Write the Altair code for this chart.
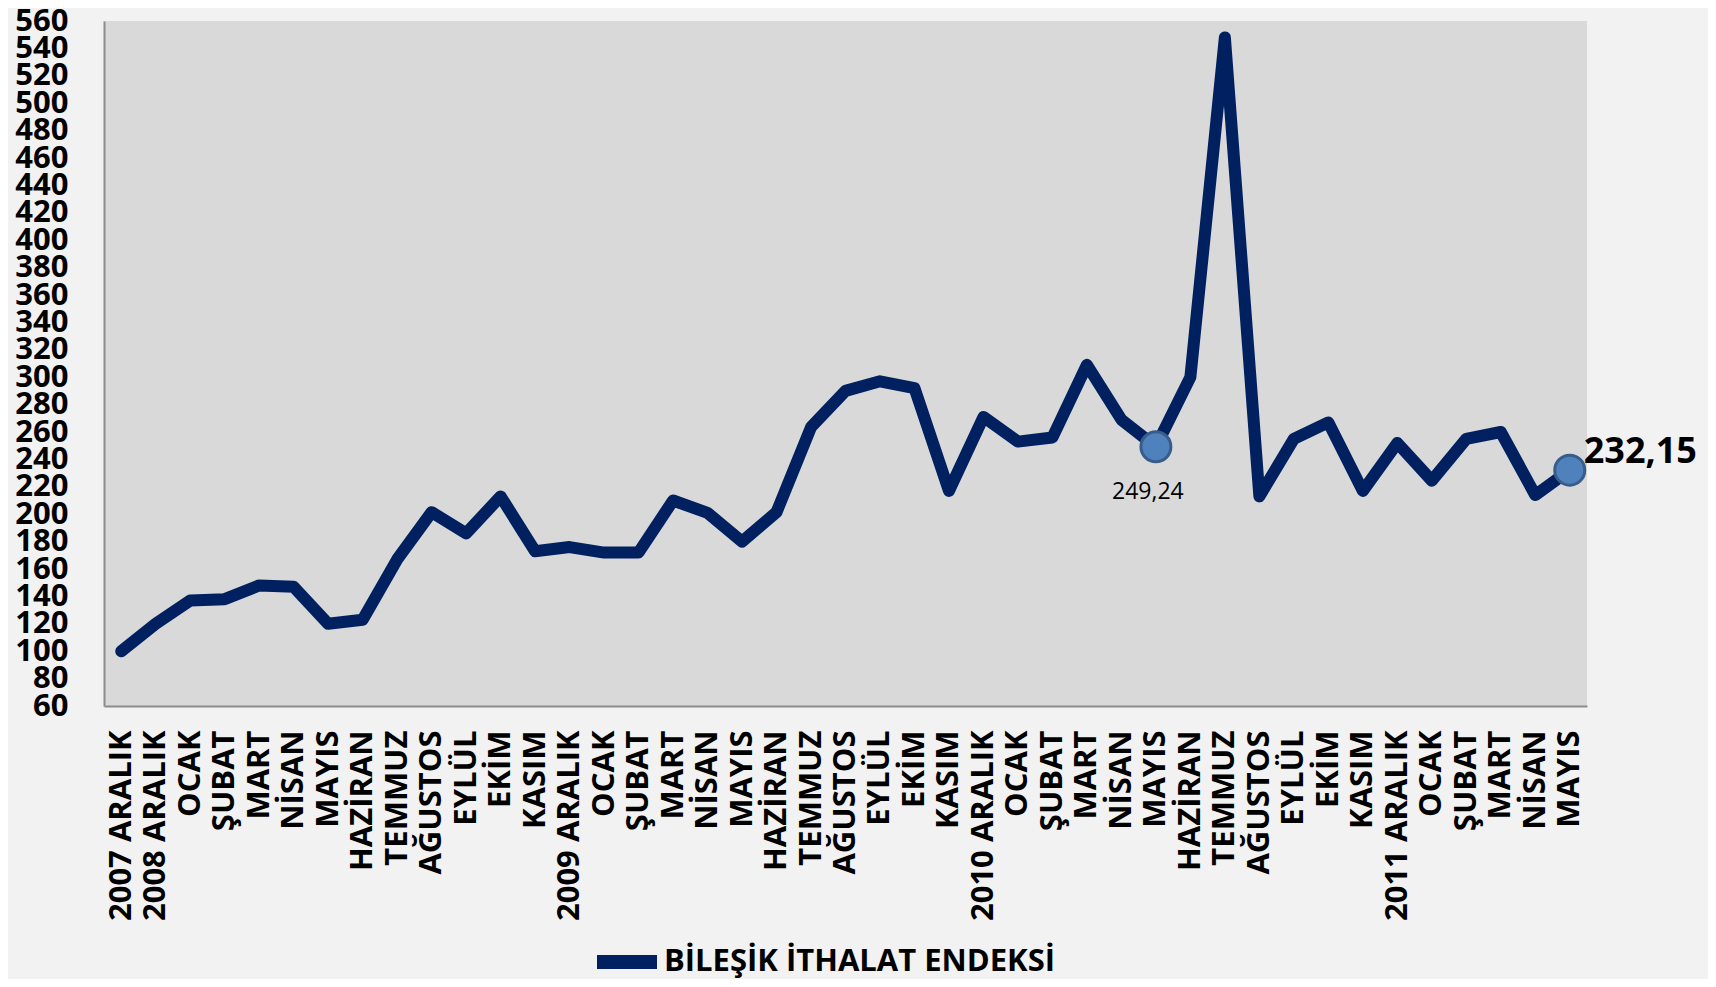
import json
import altair as alt
import pandas as pd

labels = ["2007 ARALIK", "2008 ARALIK", "OCAK", "ŞUBAT", "MART", "NİSAN", "MAYIS",
          "HAZİRAN", "TEMMUZ", "AĞUSTOS", "EYLÜL", "EKİM", "KASIM",
          "2009 ARALIK", "OCAK", "ŞUBAT", "MART", "NİSAN", "MAYIS",
          "HAZİRAN", "TEMMUZ", "AĞUSTOS", "EYLÜL", "EKİM", "KASIM",
          "2010 ARALIK", "OCAK", "ŞUBAT", "MART", "NİSAN", "MAYIS",
          "HAZİRAN", "TEMMUZ", "AĞUSTOS", "EYLÜL", "EKİM", "KASIM",
          "2011 ARALIK", "OCAK", "ŞUBAT", "MART", "NİSAN", "MAYIS"]

values = [100, 120, 137, 138, 148, 147, 120, 123, 167, 201.5, 186, 213, 173,
          176, 172, 172, 210, 201, 180, 201.5, 263.5, 290, 297, 292, 217,
          271, 253, 256, 309, 269, 249.24, 300, 548, 213, 255, 267, 217,
          252, 224.5, 255, 260, 214, 232.15]

y_ticks = list(range(60, 561, 20))
series_name = "BİLEŞİK İTHALAT ENDEKSİ"
highlight_small = [30]
highlight_big = [42]

FONT = "Open Sans"

df = pd.DataFrame({
    "idx": list(range(len(values))),
    "value": values,
    "series": series_name,
})
df["txt"] = df["value"].map(lambda v: f"{v:.2f}".replace(".", ","))

label_expr = json.dumps(labels, ensure_ascii=False) + "[datum.value]"

x_enc = alt.X(
    "idx:O",
    scale=alt.Scale(type="point", padding=0.5),
    axis=alt.Axis(
        title=None, labelExpr=label_expr, labelAngle=-90, labelAlign="right",
        labelBaseline="middle", ticks=False, tickSize=0, labelPadding=24,
        labelFont=FONT, labelFontSize=31, labelFontWeight="bold",
        labelColor="black", labelOverlap=False, labelLimit=0,
        domainColor="#8c8c8c", domainWidth=2, grid=False,
    ),
)
y_enc = alt.Y(
    "value:Q",
    scale=alt.Scale(domain=[60, 560], nice=False, zero=False),
    axis=alt.Axis(
        title=None, values=y_ticks, ticks=False, tickSize=0, labelPadding=36,
        labelFont=FONT, labelFontSize=31, labelFontWeight="bold",
        labelColor="black", labelOverlap=False, grid=False,
        domainColor="#8c8c8c", domainWidth=2,
    ),
)

base = alt.Chart(df)

line = base.mark_line(strokeWidth=12, strokeCap="round", strokeJoin="round").encode(
    x=x_enc,
    y=y_enc,
    color=alt.Color(
        "series:N",
        scale=alt.Scale(range=["#002060"]),
        legend=alt.Legend(
            title=None, orient="none", legendX=486, legendY=904,
            symbolType="stroke", symbolSize=3600, symbolStrokeWidth=14,
            labelFont=FONT, labelFontSize=31, labelFontWeight="bold",
            labelColor="black", labelLimit=0, padding=0, labelOffset=0,
        ),
    ),
)

pts = base.mark_circle(size=900, color="#4f81bd", stroke="#385d8a",
                       strokeWidth=3, opacity=1).encode(
    x=x_enc, y=y_enc
).transform_filter(
    alt.FieldOneOfPredicate(field="idx", oneOf=highlight_small + highlight_big)
)

txt_small = base.mark_text(font=FONT, fontSize=23, color="black", dx=-8, dy=45,
                           baseline="middle", align="center").encode(
    x=x_enc, y=y_enc, text="txt:N"
).transform_filter(alt.FieldOneOfPredicate(field="idx", oneOf=highlight_small))

txt_big = base.mark_text(font=FONT, fontSize=36, fontWeight="bold", color="black",
                         dx=14, dy=-18, baseline="middle", align="left").encode(
    x=x_enc, y=y_enc, text="txt:N"
).transform_filter(alt.FieldOneOfPredicate(field="idx", oneOf=highlight_big))

chart = alt.layer(line, pts, txt_small, txt_big).properties(
    width=1483, height=685,
    autosize=alt.AutoSizeParams(type="none"),
    padding={"left": 96, "top": 13, "right": 121, "bottom": 273},
    background="#f2f2f2",
).configure_view(fill="#d9d9d9", stroke=None).configure_axis(labelOverlap=False)

chart.save("out.html", embed_options={"renderer": "svg", "actions": False})
